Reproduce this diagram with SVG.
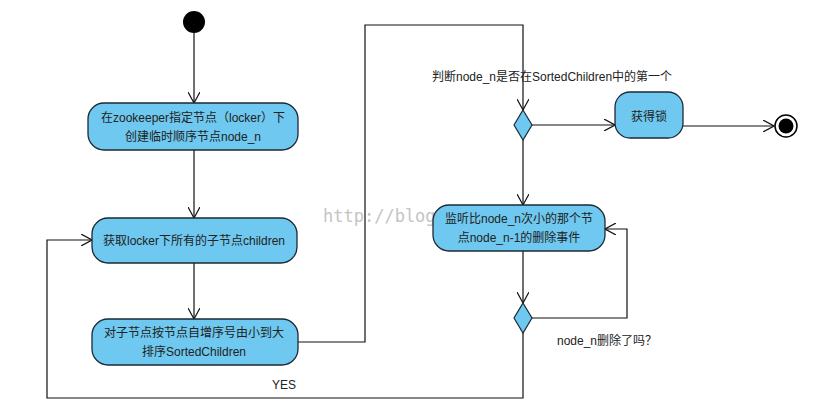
<svg xmlns="http://www.w3.org/2000/svg" width="840" height="420" viewBox="0 0 840 420">
<defs>
<style>
.node rect{fill:#6ec8ef;stroke:#1c2a36;stroke-width:1.3}
.dia{fill:#6ec8ef;stroke:#1c2a36;stroke-width:1.2}
.t{font-family:"Liberation Sans","Noto Sans CJK SC",sans-serif;font-size:12px;fill:#222;text-anchor:middle}
.lbl{font-family:"Liberation Sans","Noto Sans CJK SC",sans-serif;font-size:12px;fill:#222}
.edge{fill:none;stroke:#111;stroke-width:1.2}
.wm{font-family:"DejaVu Sans Mono","Liberation Mono",monospace;font-size:17px;fill:#c4c4c4}
</style>
<marker id="arr" viewBox="0 0 12 12" refX="11" refY="6" markerWidth="12" markerHeight="12" markerUnits="userSpaceOnUse" orient="auto">
<path d="M0,0 L11,6 L0,12" fill="none" stroke="#111" stroke-width="1.2"/>
</marker>
</defs>
<rect width="840" height="420" fill="#fff"/>
<text class="wm" x="323" y="222">http://blog</text>
<g id="connectors">
<path class="edge" d="M194,33 V103" marker-end="url(#arr)"/>
<path class="edge" d="M194,150 V218" marker-end="url(#arr)"/>
<path class="edge" d="M194,263 V319" marker-end="url(#arr)"/>
<path class="edge" d="M298,342 H365 V25 H523 V110" marker-end="url(#arr)"/>
<path class="edge" d="M532,125 H615" marker-end="url(#arr)"/>
<path class="edge" d="M683,126 H774" marker-end="url(#arr)"/>
<path class="edge" d="M523,140 V205" marker-end="url(#arr)"/>
<path class="edge" d="M523,251 V303" marker-end="url(#arr)"/>
<path class="edge" d="M532,318 H627 V229 H605" marker-end="url(#arr)"/>
<path class="edge" d="M523,333 V398 H47 V240 H92" marker-end="url(#arr)"/>
</g>
<g id="start"><circle cx="194" cy="22" r="11" fill="#000"/></g>
<g id="n1" class="node"><rect x="88" y="103" width="210" height="47" rx="16"/><text class="t" x="193" y="122">在zookeeper指定节点（locker）下</text><text class="t" x="193" y="141">创建临时顺序节点node_n</text></g>
<g id="n2" class="node"><rect x="92" y="218" width="205" height="45" rx="16"/><text class="t" x="194" y="245">获取locker下所有的子节点children</text></g>
<g id="n3" class="node"><rect x="92" y="319" width="206" height="46" rx="16"/><text class="t" x="194" y="337">对子节点按节点自增序号由小到大</text><text class="t" x="194" y="356">排序SortedChildren</text></g>
<g id="d1"><polygon class="dia" points="523,110 532,125 523,140 514,125"/></g>
<text class="lbl" x="432" y="81">判断node_n是否在SortedChildren中的第一个</text>
<g id="n4" class="node"><rect x="615" y="92" width="68" height="46" rx="15"/><text class="t" x="649" y="121">获得锁</text></g>
<g id="end"><circle cx="786" cy="126" r="11" fill="#fff" stroke="#000" stroke-width="1.5"/><circle cx="786" cy="126" r="7.5" fill="#000"/></g>
<g id="n5" class="node"><rect x="433" y="205" width="172" height="46" rx="16"/><text class="t" x="519" y="223">监听比node_n次小的那个节</text><text class="t" x="519" y="242">点node_n-1的删除事件</text></g>
<g id="d2"><polygon class="dia" points="523,303 532,318 523,333 514,318"/></g>
<text class="lbl" x="557" y="345">node_n删除了吗？</text>
<text class="lbl" x="272" y="389">YES</text>
</svg>
